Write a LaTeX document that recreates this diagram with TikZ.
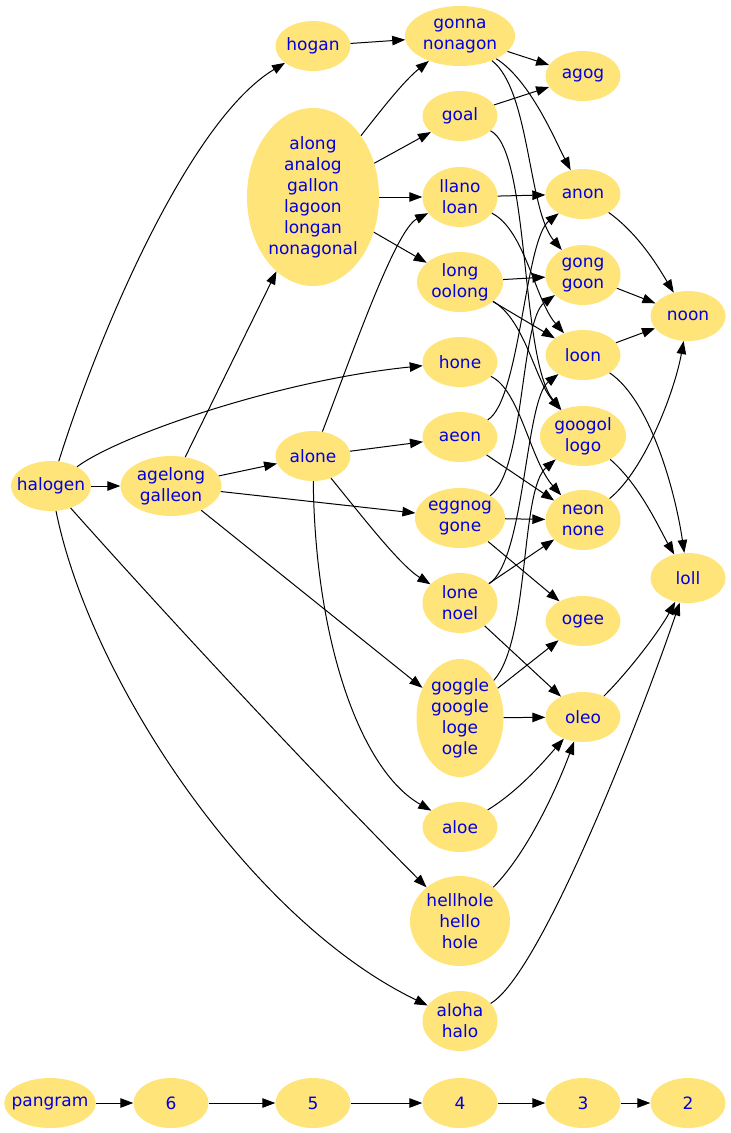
\documentclass[tikz,border=0pt]{standalone}
\usepackage{fontspec}
\setmainfont{DejaVu Sans}
\usetikzlibrary{shapes.geometric,arrows.meta}
\definecolor{nodefill}{RGB}{255,228,122}
\definecolor{nodetext}{RGB}{0,0,225}
\tikzset{
  w/.style={ellipse, fill=nodefill, draw=none, text=nodetext, inner xsep=-6pt, inner ysep=0pt,
    minimum width=75pt, minimum height=50pt, align=center,
    font=\fontsize{17}{21}\selectfont},
  conn/.style={-{Triangle[length=13pt,width=9.5pt]}, line width=1pt, black},
}
\begin{document}
\begin{tikzpicture}[x=1pt,y=-1pt]
\useasboundingbox (0,0) rectangle (731,1133);
% nodes
\node[w, minimum width=80pt] (halogen) at (51,486) {halogen};
\node[w, minimum width=101pt, minimum height=60pt] (agelong) at (171,486) {agelong\\galleon};
\node[w] (hogan) at (313,46) {hogan};
\node[w, minimum width=132pt, minimum height=178pt] (along) at (313,197) {along\\analog\\gallon\\lagoon\\longan\\nonagonal};
\node[w] (alone) at (313,456) {alone};
\node[w, minimum width=110pt, minimum height=60pt] (gonna) at (460,36) {gonna\\nonagon};
\node[w] (goal) at (460,116) {goal};
\node[w, minimum height=60pt] (llano) at (460,197) {llano\\loan};
\node[w, minimum width=86pt, minimum height=60pt] (long) at (460,282) {long\\oolong};
\node[w] (hone) at (460,362) {hone};
\node[w] (aeon) at (460,437) {aeon};
\node[w, minimum width=90pt, minimum height=60pt] (eggnog) at (460,518) {eggnog\\gone};
\node[w, minimum height=60pt] (lone) at (460,603) {lone\\noel};
\node[w, minimum width=87pt, minimum height=118pt] (goggle) at (460,718) {goggle\\google\\loge\\ogle};
\node[w] (aloe) at (460,827) {aloe};
\node[w, minimum width=100pt, minimum height=90pt] (hellhole) at (460,921) {hellhole\\hello\\hole};
\node[w, minimum height=60pt] (aloha) at (460,1021) {aloha\\halo};
\node[w] (agog) at (583,76) {agog};
\node[w] (anon) at (583,194) {anon};
\node[w, minimum height=60pt] (gong) at (583,275) {gong\\goon};
\node[w] (loon) at (583,355) {loon};
\node[w, minimum width=86pt, minimum height=60pt] (googol) at (583,436) {googol\\logo};
\node[w, minimum height=60pt] (neon) at (583,520) {neon\\none};
\node[w] (ogee) at (583,621) {ogee};
\node[w] (oleo) at (583,717) {oleo};
\node[w] (noon) at (688,316) {noon};
\node[w] (loll) at (688,578) {loll};
% legend row
\node[w, minimum width=90pt] (pangram) at (50,1103) {pangram};
\node[w] (r6) at (171,1103) {6};
\node[w] (r5) at (313,1103) {5};
\node[w] (r4) at (460,1103) {4};
\node[w] (r3) at (583,1103) {3};
\node[w] (r2) at (688,1103) {2};
% edges from halogen
\draw[conn] (halogen) .. controls (100,330) and (190,120) .. (hogan);
\draw[conn] (halogen) -- (agelong);
\draw[conn] (halogen) .. controls (120,435) and (280,380) .. (hone);
\draw[conn] (halogen) .. controls (175,625) and (310,770) .. (hellhole);
\draw[conn] (halogen) .. controls (90,680) and (250,920) .. (aloha);
% agelong
\draw[conn] (agelong) -- (along);
\draw[conn] (agelong) -- (alone);
\draw[conn] (agelong) -- (eggnog);
\draw[conn] (agelong) -- (goggle);
% hogan, along
\draw[conn] (hogan) -- (gonna);
\draw[conn] (along) .. controls (385,105) and (405,80) .. (gonna);
\draw[conn] (along) -- (goal);
\draw[conn] (along) -- (llano);
\draw[conn] (along) -- (long);
% alone
\draw[conn] (alone) .. controls (350,360) and (395,230) .. (llano);
\draw[conn] (alone) -- (aeon);
\draw[conn] (alone) .. controls (365,520) and (400,565) .. (lone);
\draw[conn] (alone) .. controls (315,640) and (360,770) .. (aloe);
% rank 4 -> rank 3
\draw[conn] (gonna) -- (agog);
\draw[conn] (gonna) .. controls (530,80) and (555,140) .. (anon);
\draw[conn] (gonna) .. controls (530,90) and (528,210) .. (gong);
\draw[conn] (goal) -- (agog);
\draw[conn] (goal) .. controls (530,150) and (520,360) .. (googol);
\draw[conn] (llano) -- (anon);
\draw[conn] (llano) .. controls (525,230) and (535,300) .. (loon);
\draw[conn] (long) -- (gong);
\draw[conn] (long) -- (loon);
\draw[conn] (long) .. controls (525,320) and (535,380) .. (googol);
\draw[conn] (hone) .. controls (520,390) and (530,460) .. (neon);
\draw[conn] (aeon) .. controls (520,400) and (525,240) .. (anon);
\draw[conn] (aeon) -- (neon);
\draw[conn] (eggnog) .. controls (525,470) and (520,320) .. (gong);
\draw[conn] (eggnog) -- (neon);
\draw[conn] (eggnog) -- (ogee);
\draw[conn] (lone) .. controls (525,560) and (525,400) .. (loon);
\draw[conn] (lone) -- (neon);
\draw[conn] (lone) -- (oleo);
\draw[conn] (goggle) .. controls (530,640) and (520,490) .. (googol);
\draw[conn] (goggle) -- (ogee);
\draw[conn] (goggle) -- (oleo);
\draw[conn] (aloe) .. controls (520,790) and (545,760) .. (oleo);
\draw[conn] (hellhole) .. controls (530,850) and (560,780) .. (oleo);
\draw[conn] (aloha) .. controls (540,975) and (640,720) .. (loll);
% rank 3 -> rank 2
\draw[conn] (anon) .. controls (640,235) and (660,270) .. (noon);
\draw[conn] (gong) -- (noon);
\draw[conn] (loon) -- (noon);
\draw[conn] (loon) .. controls (650,400) and (675,490) .. (loll);
\draw[conn] (googol) .. controls (640,485) and (660,530) .. (loll);
\draw[conn] (neon) .. controls (645,470) and (675,390) .. (noon);
\draw[conn] (oleo) .. controls (630,670) and (660,630) .. (loll);
% legend chain
\draw[conn] (pangram) -- (r6);
\draw[conn] (r6) -- (r5);
\draw[conn] (r5) -- (r4);
\draw[conn] (r4) -- (r3);
\draw[conn] (r3) -- (r2);
\end{tikzpicture}
\end{document}
